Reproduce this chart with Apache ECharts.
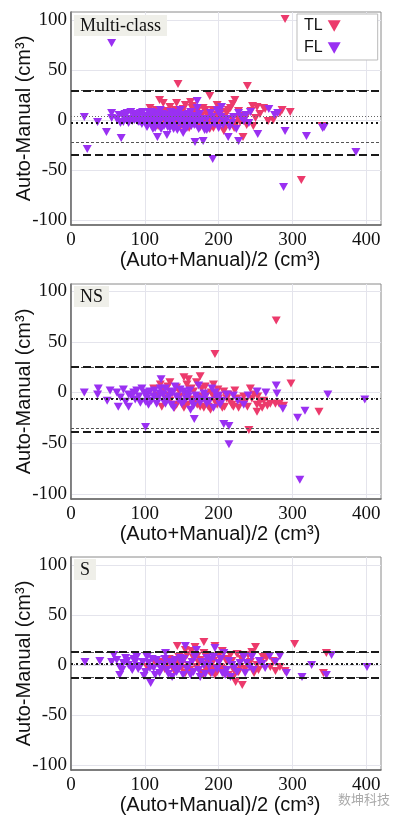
<!DOCTYPE html>
<html>
<head>
<meta charset="utf-8">
<script src="https://cdn.jsdelivr.net/npm/echarts@6/dist/echarts.min.js"></script>
<style>
  html, body { margin: 0; padding: 0; background: #fff; }
  #chart { width: 396px; height: 824px; }
</style>
</head>
<body>
<div id="chart"></div>
<script>
// tick labels
var xTicks = [0, 100, 200, 300, 400];
var yTicks = [-100, -50, 0, 50, 100];
var panelNames = ['Multi-class', 'NS', 'S'];

// [mean, upper LoA, lower LoA]
var multiTLLines = [4, 30, -22];
var multiFLLines = [-2.7, 29.6, -35];
var nsTLLines = [-5.5, 24.5, -35.3];
var nsFLLines = [-6.5, 25.5, -38.5];
var sTLLines = [0.5, 13, -12];
var sFLLines = [1, 13.5, -12.5];

// [(Auto+Manual)/2, Auto-Manual]
var multiTL = [
  [145,36],[239,34],[188,24],[290,101],[312,-60],[120,20],[219,16],[246,14],[252,13],[297,8],[283,7],[256,6],[274,0],
  [267,-1],[247,-6],[233,-17],[286,10],[261,12],[263,11],[340,-6],
  [125,17],[134,13],[143,17],[155,15],[164,12],[130,8],[139,5],[150,7],[159,3],[168,7],[177,4],[182,10],[191,2],[198,5],
  [204,8],[211,7],[216,12],[225,3],[229,-2],[236,2],[112,5],[119,0],[128,-3],[137,-2],[148,-7],[157,-3],[166,0],[175,-7],
  [186,-3],[193,-8],[202,-3],[207,-11],[216,-5],[223,-3],[107,12],[198,15],[222,20],[162,18],[177,-3],[189,0],
  [110,1],[115,10],[118,-6],[122,4],[127,9],[131,-6],[136,1],[141,10],[145,-4],[147,2],[152,11],[154,-1],[160,-8],[161,6],
  [165,14],[169,-4],[171,9],[174,1],[179,12],[181,-6],[184,6],[188,-9],[192,10],[195,-2],[200,0],[205,3],[209,-6],[213,10],
  [218,1],[221,-8],[227,9],[231,4],[238,-5],[244,9],[250,2]
];
var multiFL = [
  [55,77],[18,3],[36,-2],[48,-12],[22,-29],[68,-18],[55,2],[55,7],[192,-39],[168,-22],[179,-21],[117,-17],[130,-15],
  [152,-13],[288,-67],[386,-32],[341,-8],[343,-7],[319,-16],[290,-11],[253,-14],[227,-21],[213,-17],[171,19],[268,11],
  [280,7],[243,8],[276,5],
  [65,5],[71,3],[76,7],[80,1],[85,5],[89,3],[94,7],[98,0],[103,4],[107,2],[112,-2],[116,7],[119,-4],[123,3],[128,0],
  [132,5],[137,-3],[140,7],[144,2],[148,-3],[153,4],[158,-1],[162,8],[167,-5],[171,3],[176,-2],[181,-10],[184,1],[189,7],
  [194,-4],[198,10],[203,3],[208,-2],[215,-7],[220,3],[227,7],[234,-1],[241,-3],[71,-2],[78,-3],[92,-2],[103,-7],[114,-8],
  [134,-8],[144,-10],[157,-8],[173,-9],[184,-10],[200,-8],[81,8],[105,8],[121,10],[148,10],[171,12],[204,13],
  [105,0],[108,-3],[110,5],[113,1],[115,-5],[118,3],[120,-1],[124,6],[126,-6],[130,2],[133,-2],[135,8],[138,0],[142,-6],
  [146,4],[150,0],[155,-4],[160,3],[164,-2],[100,2],[96,-4],[90,-1],[86,0],
  [62,1],[67,-3],[73,6],[75,0],[83,-1],[88,6],[92,4],[97,8],[101,-2],[104,-5],[109,8],[111,-9],[117,0],[122,-9],[127,4],
  [131,-7],[136,3],[139,-9],[143,6],[147,-1],[151,5],[154,-9],[159,6],[163,-6],[166,4],[170,-3],[174,6],[178,1],[182,-5],
  [187,-8],[191,3],[196,-1],[201,6],[206,-5],[211,1],[218,-3],[224,-9],[230,3],[237,5]
];
var nsTL = [
  [278,71],[195,38],[241,-37],[336,-19],[298,9],[253,-4],[270,-11],[277,-11],
  [175,16],[153,15],[134,10],[121,8],[143,5],[157,8],[166,1],[177,4],[184,-2],[193,8],[200,-6],[207,1],[216,-9],[220,-14],
  [227,-15],[234,-4],[243,4],[245,-6],[252,-12],[259,-15],[288,-13],[134,-8],[143,-12],[153,-15],[162,-7],[171,-12],
  [180,-15],[189,-17],[198,-12],[205,-15],[211,-6],[112,4],[125,1],[148,-4],[173,-4],[186,-9],[193,-4],[225,-6],[236,-9],
  [252,-19],[123,-14],[132,-3],[159,13],[261,-8],
  [116,-3],[128,-6],[131,6],[137,-1],[140,-15],[146,2],[150,-9],[155,-1],[158,-12],[163,4],[168,-9],[170,10],[175,-14],
  [179,-6],[182,6],[186,-14],[190,0],[196,-10],[199,3],[203,-9],[208,-14],[213,-2],[218,-12],[222,2],[230,-9],[239,-14],
  [248,-2],[256,-9],[266,-13],[282,-11]
];
var nsFL = [
  [310,-86],[214,-51],[207,-31],[214,-33],[101,-34],[307,-25],[317,-18],[348,-2],[398,-7],[287,-16],[278,7],[264,0],
  [18,0],[37,4],[36,-2],[49,-8],[53,2],[64,-14],[78,-14],[62,0],[71,3],[78,-2],[85,0],[92,-4],[96,4],[101,-9],[103,-2],
  [107,1],[112,-4],[116,-11],[122,13],[125,-2],[130,-7],[134,1],[139,-15],[143,-4],[148,3],[153,-9],[159,-4],[162,-17],
  [167,-26],[171,-6],[173,7],[180,-1],[184,-11],[191,4],[198,-6],[220,-3],[234,-12],[252,1],[279,-1],[157,-1],[121,4],
  [141,6],[87,-7],[105,-12],[128,-11],[164,-9],[177,-7],[202,-12],[193,-15],
  [67,-5],[74,-9],[82,-4],[89,2],[94,-10],[99,0],[103,-6],[109,-8],[113,2],[118,-6],[120,-1],[126,-9],[128,4],[133,-4],
  [136,-12],[138,0],[145,-7],[150,-11],[152,1],[156,-6],[161,2],[166,-13],[169,-3],[175,-10],[182,-4],[188,-8],[195,0],
  [200,-3],[205,-8],[211,-2],[226,-8],[240,-3]
];
var sTL = [
  [342,-8],[346,12],[303,21],
  [180,23],[144,19],[155,15],[168,18],[180,12],[195,19],[205,14],[216,10],[225,11],[250,18],[260,8],[252,0],[223,-17],
  [232,-20],[220,-12],[207,-8],[198,-7],[189,-8],[182,-3],[173,2],[166,7],[159,0],[150,-3],[143,2],[137,-2],[130,2],
  [123,3],[155,-8],[177,-8],[191,-3],[202,-2],[211,3],[229,-2],[243,3],[254,-5],[270,-2],[277,-6],[245,13],[265,7],
  [103,-2],[114,2],[186,2],[209,-5],[227,-7],[283,-2],
  [127,-4],[133,6],[140,-6],[146,8],[148,-1],[152,4],[157,10],[161,-5],[163,14],[170,-2],[171,9],[175,5],[179,-10],
  [184,10],[187,-6],[193,4],[195,-10],[200,9],[204,-4],[210,6],[213,-10],[218,4],[221,-6],[231,6],[236,-4],[240,10],
  [248,-8],[257,3],[274,4],[290,-6]
];
var sFL = [
  [19,3],[39,4],[55,3],[58,10],[66,-2],[66,-10],[71,2],[78,0],[83,-5],[87,3],[94,-1],[101,-7],[105,2],[108,-18],[112,-3],
  [116,5],[120,-8],[125,0],[130,-5],[134,3],[139,-2],[143,-7],[150,2],[155,19],[157,-4],[164,3],[170,15],[173,-5],[180,0],
  [184,7],[191,-8],[195,17],[200,2],[207,12],[211,-5],[218,0],[225,-7],[234,8],[238,2],[245,8],[247,-5],[259,1],[269,9],
  [277,3],[283,9],[292,-8],[313,-12],[326,0],[74,7],[89,8],[103,8],[114,-10],[128,12],[137,-12],[148,7],[162,-10],
  [175,-12],[189,5],[205,-8],[216,-12],[236,-8],[346,-10],[353,10],[401,-2],
  [62,5],[69,-5],[76,4],[81,-2],[85,6],[91,-4],[97,3],[99,-11],[107,-3],[110,6],[118,1],[122,-4],[127,6],[132,-9],[136,1],
  [141,5],[146,-4],[152,-10],[153,6],[160,0],[166,-7],[168,8],[177,3],[182,-9],[187,-1],[193,8],[198,-4],[203,6],[209,-10],
  [214,4],[221,-3],[229,2],[242,-2],[255,4],[263,-3]
];

var TL_COLOR = '#ec3a6c';
var FL_COLOR = '#9a30f2';
var TRI = 'path://M0,0L10,0L5,9Z';

// panel boxes (pixels)
var panels = [
  { top: 12, height: 213, min: -105, max: 108, tl: multiTL, fl: multiFL, tlLines: multiTLLines, flLines: multiFLLines },
  { top: 284, height: 215, min: -105, max: 107, tl: nsTL, fl: nsFL, tlLines: nsTLLines, flLines: nsFLLines },
  { top: 557, height: 213, min: -105, max: 108, tl: sTL, fl: sFL, tlLines: sTLLines, flLines: sFLLines }
];

function lineMarks(vals, thick) {
  var mean = thick
    ? { color: '#1a1a1a', width: 2, type: [2, 3] }
    : { color: '#666', width: 1, type: [1, 2] };
  var loa = thick
    ? { color: '#1a1a1a', width: 2, type: [8, 4] }
    : { color: '#555', width: 1, type: [3, 2] };
  return {
    silent: true,
    symbol: 'none',
    animation: false,
    label: { show: false },
    data: [
      { yAxis: vals[0], lineStyle: mean },
      { yAxis: vals[1], lineStyle: loa },
      { yAxis: vals[2], lineStyle: loa }
    ]
  };
}

var grids = [], xAxes = [], yAxes = [], series = [], titles = [];
panels.forEach(function (p, i) {
  grids.push({
    left: 71, right: 15, top: p.top, height: p.height, outerBoundsMode: 'none',
    show: true, borderColor: '#8a8a8a', borderWidth: 1
  });
  xAxes.push({
    type: 'value', gridIndex: i, min: 0, max: 420,
    name: '(Auto+Manual)/2 (cm³)', nameLocation: 'middle', nameGap: 25, nameMoveOverlap: false,
    nameTextStyle: { fontFamily: 'Liberation Sans', fontSize: 20, color: '#111', padding: [0, 12, 0, 0] },
    axisLine: { show: true, onZero: false, lineStyle: { color: '#666', width: 1.5 } },
    axisTick: { show: false, customValues: xTicks },
    axisLabel: { customValues: xTicks, margin: 6, fontFamily: 'Liberation Serif', fontSize: 19, color: '#111' },
    splitLine: { show: true, lineStyle: { color: '#e4e4ec', width: 1 } }
  });
  yAxes.push({
    type: 'value', gridIndex: i, min: p.min, max: p.max,
    name: 'Auto-Manual (cm³)', nameLocation: 'middle', nameGap: 37, nameMoveOverlap: false,
    nameTextStyle: { fontFamily: 'Liberation Sans', fontSize: 20, color: '#111' },
    axisLine: { show: true, onZero: false, lineStyle: { color: '#666', width: 1.5 } },
    axisTick: { show: false, customValues: yTicks },
    axisLabel: { customValues: yTicks, margin: 4, fontFamily: 'Liberation Serif', fontSize: 19, color: '#111' },
    splitLine: { show: true, lineStyle: { color: '#e4e4ec', width: 1 } }
  });
  series.push({
    name: 'TL', type: 'scatter', xAxisIndex: i, yAxisIndex: i,
    data: p.tl, symbol: 'triangle', symbolRotate: 180, symbolSize: [9, 8],
    itemStyle: { color: TL_COLOR, opacity: 1 },
    markLine: lineMarks(p.tlLines, false)
  });
  series.push({
    name: 'FL', type: 'scatter', xAxisIndex: i, yAxisIndex: i,
    data: p.fl, symbol: 'triangle', symbolRotate: 180, symbolSize: [9, 8],
    itemStyle: { color: FL_COLOR, opacity: 1 },
    markLine: lineMarks(p.flLines, true)
  });
  titles.push({
    text: panelNames[i], left: 74, top: p.top + (i === 0 ? 3 : 2),
    backgroundColor: '#efefe9', padding: [2, 6, 1, 6],
    textStyle: { fontFamily: 'Liberation Serif', fontSize: 18, fontWeight: 'normal', color: '#111', lineHeight: 18 }
  });
});

var chart = echarts.init(document.getElementById('chart'), null, { renderer: 'canvas' });
chart.setOption({
  animation: false,
  backgroundColor: '#fff',
  title: titles,
  grid: grids,
  xAxis: xAxes,
  yAxis: yAxes,
  legend: {
    orient: 'vertical', left: 297, top: 14, align: 'right',
    padding: [4, 37, 4, 7], itemGap: 6, itemWidth: 13, itemHeight: 12,
    backgroundColor: '#fff', borderColor: '#bbb', borderWidth: 1,
    textStyle: { fontFamily: 'Liberation Sans', fontSize: 16, color: '#111' },
    data: [{ name: 'TL', icon: TRI }, { name: 'FL', icon: TRI }]
  },
  graphic: [
    { type: 'line', shape: { x1: 347, y1: 23, x2: 371, y2: 23 }, style: { stroke: '#777', lineWidth: 1, lineDash: [1, 1.5] } },
    { type: 'line', shape: { x1: 347, y1: 29, x2: 371, y2: 29 }, style: { stroke: '#666', lineWidth: 1, lineDash: [2.5, 1.5] } },
    { type: 'line', shape: { x1: 347, y1: 45, x2: 371, y2: 45 }, style: { stroke: '#222', lineWidth: 2, lineDash: [2, 2.5] } },
    { type: 'line', shape: { x1: 347, y1: 51.5, x2: 371, y2: 51.5 }, style: { stroke: '#222', lineWidth: 2, lineDash: [4, 2] } },
    { type: 'text', left: 338, top: 793, style: { text: '数坤科技', fill: '#aaa', fontSize: 13, fontFamily: 'Noto Sans CJK SC' } }
  ],
  series: series
});
</script>
</body>
</html>
